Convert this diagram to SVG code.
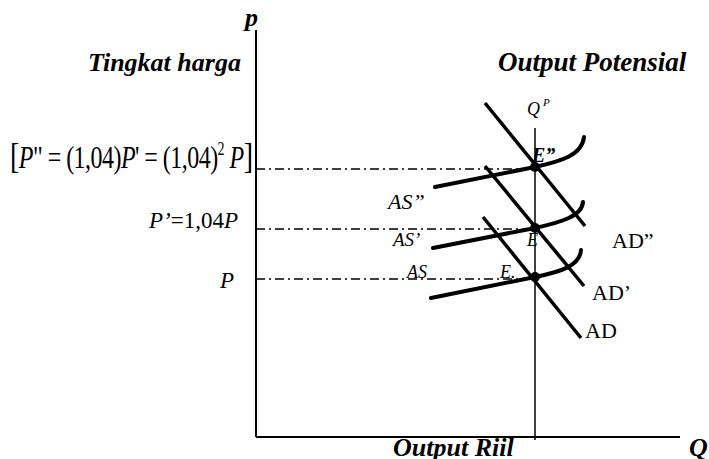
<svg xmlns="http://www.w3.org/2000/svg" width="709" height="459" viewBox="0 0 709 459">
<style>
text{font-family:"Liberation Serif","Times New Roman",serif;fill:#000}
.bi{font-weight:bold;font-style:italic}
.it{font-style:italic}
.axis{stroke:#000;stroke-width:2;fill:none}
.dd{stroke:#000;stroke-width:1.5;stroke-dasharray:9 4 2 4;fill:none}
.ad{stroke:#000;stroke-width:3.5;fill:none}
.as{stroke:#000;stroke-width:4;fill:none;stroke-linecap:round}
.qp{stroke:#000;stroke-width:1.5}
</style>
<rect width="709" height="459" fill="#fff"/>
<g id="axes">
<line class="axis" x1="256" y1="30" x2="256" y2="437"/>
<line class="axis" x1="256" y1="437" x2="680" y2="437"/>
<line class="qp" x1="535" y1="128" x2="535" y2="440"/>
</g>
<g id="connectors">
<line class="dd" x1="256" y1="169" x2="535" y2="169"/>
<line class="dd" x1="256" y1="229" x2="535" y2="229"/>
<line class="dd" x1="256" y1="279" x2="535" y2="279"/>
</g>
<g id="AS-curves">
<path id="AS2" class="as" d="M435,187 L535,167 C562,161 582,155 584,137"/>
<path id="AS1" class="as" d="M433,248 L535,228 C562,222 582,216 583,202"/>
<path id="AS0" class="as" d="M431,298 L535,277 C560,272 580,266 581,250"/>
</g>
<g id="AD-lines">
<line id="AD2" class="ad" x1="485" y1="103" x2="585" y2="226"/>
<line id="AD1" class="ad" x1="485" y1="166" x2="584" y2="286"/>
<line id="AD0" class="ad" x1="483" y1="217" x2="581" y2="338"/>
</g>
<g id="equilibria">
<circle cx="535" cy="167" r="5"/>
<circle cx="535" cy="228" r="5"/>
<circle cx="535" cy="277" r="5"/>
</g>
<g id="labels">
<text class="bi" x="245" y="26" font-size="26">p</text>
<text class="bi" x="88" y="71" font-size="26">Tingkat harga</text>
<text class="bi" x="498" y="71" font-size="27">Output Potensial</text>
<text class="bi" x="393" y="456" font-size="26">Output Riil</text>
<text class="bi" x="689" y="456" font-size="26">Q</text>
<text class="it" x="527" y="115" font-size="18">Q<tspan font-size="11" dy="-9" dx="3">P</tspan></text>
<text class="bi" x="532" y="162" font-size="20">E”</text>
<text class="it" x="527" y="246" font-size="18">E</text>
<text class="it" x="500" y="278" font-size="18">E.</text>
<text class="it" x="388" y="209" font-size="22">AS”</text>
<text class="it" x="393" y="246" font-size="19">AS’</text>
<text class="it" x="407" y="278" font-size="18">AS</text>
<text x="612" y="248" font-size="22">AD”</text>
<text x="592" y="300" font-size="22">AD’</text>
<text x="585" y="338" font-size="22">AD</text>
<text class="it" x="220" y="288" font-size="23">P</text>
<text x="238" y="228" font-size="23" text-anchor="end"><tspan class="it">P’</tspan>=1,04<tspan class="it">P</tspan></text>
<g transform="translate(10,168) scale(1,1.3)">
<text x="0" y="0" font-size="24" textLength="243" lengthAdjust="spacing"><tspan font-size="28">[</tspan><tspan class="it">P</tspan>" = (1,04)<tspan class="it">P</tspan>' = (1,04)<tspan font-size="14" dy="-10">2</tspan><tspan dy="10"> </tspan><tspan class="it">P</tspan><tspan font-size="28">]</tspan></text>
</g>
</g>
</svg>
